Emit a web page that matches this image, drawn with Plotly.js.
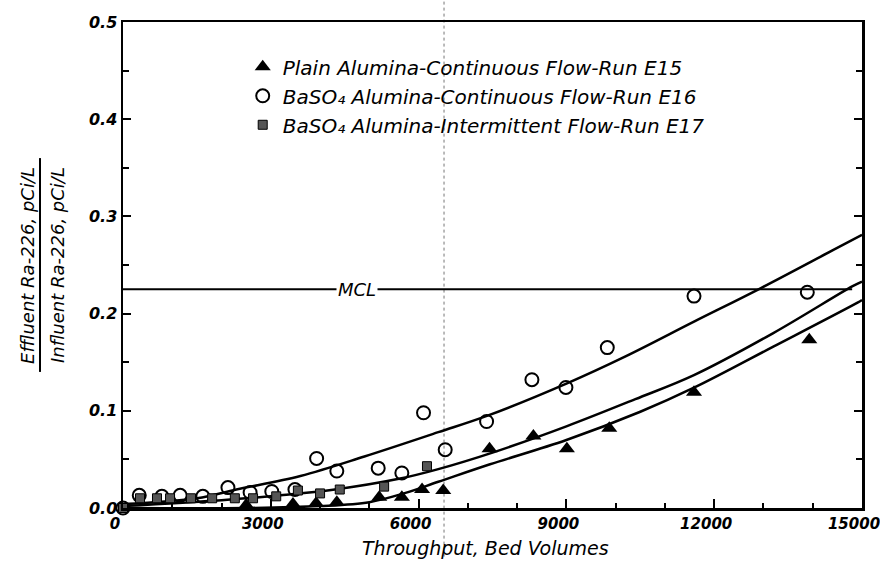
<!DOCTYPE html>
<html>
<head>
<meta charset="utf-8">
<script src="https://cdn.plot.ly/plotly-3.0.1.min.js"></script>
<style>html,body{margin:0;padding:0;background:#fff;}#chart{width:880px;height:577px;}</style>
</head>
<body>
<div id="chart"></div>
<script>
// ---- data ----
var e15X = [2500, 3450, 3920, 4340, 5200, 5660, 6070, 6500, 7440, 8330, 9010, 9870, 11590, 13930];
var e15Y = [0.003, 0.004, 0.005, 0.006, 0.011, 0.011, 0.019, 0.018, 0.061, 0.074, 0.061, 0.082, 0.119, 0.173];

var e16X = [0, 330, 790, 1160, 1620, 2130, 2580, 3020, 3490, 3930, 4340, 5180, 5660, 6100, 6540, 7380, 8300, 8990, 9830, 11590, 13890];
var e16Y = [0.0, 0.013, 0.012, 0.013, 0.012, 0.021, 0.016, 0.017, 0.019, 0.051, 0.038, 0.041, 0.036, 0.098, 0.060, 0.089, 0.132, 0.124, 0.165, 0.218, 0.222];

var e17X = [0, 345, 690, 955, 1380, 1810, 2270, 2640, 3110, 3550, 4000, 4400, 5300, 6170];
var e17Y = [0.0, 0.010, 0.010, 0.010, 0.010, 0.010, 0.010, 0.010, 0.012, 0.018, 0.015, 0.019, 0.022, 0.043];

var fitE16X = [0, 1500, 2300, 3600, 4900, 6400, 7400, 9000, 10200, 11600, 12900, 14400, 15000];
var fitE16Y = [0.004, 0.010, 0.019, 0.033, 0.053, 0.078, 0.095, 0.128, 0.156, 0.192, 0.225, 0.265, 0.281];

var fitE17X = [0, 2000, 3200, 4300, 5600, 6400, 7500, 9000, 10400, 11600, 13200, 14800, 15000];
var fitE17Y = [0.002, 0.008, 0.013, 0.019, 0.030, 0.040, 0.057, 0.084, 0.112, 0.137, 0.180, 0.228, 0.233];

var fitE15X = [0, 2500, 4000, 5000, 5700, 6400, 7450, 9000, 10500, 11600, 13200, 14900, 15000];
var fitE15Y = [0.0, 0.0, 0.002, 0.006, 0.015, 0.027, 0.045, 0.070, 0.099, 0.124, 0.166, 0.211, 0.214];

var mclX = [0, 14800];
var mclY = [0.225, 0.225];
var mclLabelX = 4750;
var artifactX = 6516;

var names = [
  'Plain Alumina-Continuous Flow-Run E15',
  'BaSO\u2084 Alumina-Continuous Flow-Run E16',
  'BaSO\u2084 Alumina-Intermittent Flow-Run E17'
];

var FONT = 'DejaVu Sans';

function curve(x, y) {
  return {x: x, y: y, type: 'scatter', mode: 'lines', showlegend: false,
          line: {color: '#000', width: 2.5, shape: 'spline'}};
}

var traces = [
  {x: mclX, y: mclY, yaxis: 'y2', type: 'scatter', mode: 'lines', showlegend: false,
   line: {color: '#000', width: 2}},
  curve(fitE16X, fitE16Y),
  curve(fitE17X, fitE17Y),
  curve(fitE15X, fitE15Y),
  {x: e15X, y: e15Y, type: 'scatter', mode: 'markers', name: names[0],
   marker: {symbol: 'triangle-up', size: 14, color: '#000'}, cliponaxis: false},
  {x: e16X, y: e16Y, type: 'scatter', mode: 'markers', name: names[1],
   marker: {symbol: 'circle-open', size: 13, color: '#000', line: {width: 2, color: '#000'}}, cliponaxis: false},
  {x: e17X, y: e17Y, type: 'scatter', mode: 'markers', name: names[2],
   marker: {symbol: 'square', size: 9, color: '#555', line: {width: 1, color: '#000'}}, cliponaxis: false}
];

var layout = {
  width: 880, height: 577,
  margin: {l: 123, r: 18, t: 22, b: 69},
  paper_bgcolor: '#fff', plot_bgcolor: '#fff',
  font: {family: FONT, color: '#000'},
  showlegend: true,
  legend: {x: 0.162, y: 0.948, xanchor: 'left', yanchor: 'top', bgcolor: 'rgba(0,0,0,0)',
           font: {family: FONT, size: 20, style: 'italic', color: '#000'}, tracegroupgap: 4,
           itemwidth: 30},
  xaxis: {range: [0, 15000], tickmode: 'linear', tick0: 0, dtick: 3000, tickformat: 'd',
          ticks: 'inside', ticklen: 9, tickwidth: 2, tickcolor: '#000',
          minor: {dtick: 1000, tick0: 0, ticks: 'inside', ticklen: 5, tickwidth: 2, tickcolor: '#000'},
          showline: true, linewidth: 2.5, linecolor: '#000', mirror: true,
          showgrid: false, zeroline: false, ticklabeloverflow: 'allow', ticklabelshift: -8,
          tickfont: {family: FONT, size: 15, style: 'italic', weight: 'bold', color: '#000'}},
  yaxis: {range: [0, 0.5], tickmode: 'linear', tick0: 0, dtick: 0.1, tickformat: '.1f',
          ticks: 'inside', ticklen: 8, tickwidth: 2, tickcolor: '#000',
          showline: true, linewidth: 2.5, linecolor: '#000', mirror: 'ticks',
          showgrid: false, zeroline: false,
          tickfont: {family: FONT, size: 16, style: 'italic', weight: 'bold', color: '#000'}},
  yaxis2: {overlaying: 'y', side: 'left', range: [0, 0.5], tickmode: 'linear', tick0: 0, dtick: 0.05,
           ticks: 'inside', ticklen: 6, tickwidth: 2, tickcolor: '#000', showticklabels: false,
           showline: true, linewidth: 2.5, linecolor: '#000', mirror: 'ticks',
           showgrid: false, zeroline: false},
  shapes: [
    {type: 'line', xref: 'x', yref: 'paper', x0: artifactX, x1: artifactX, y0: -0.1, y1: 1.045,
     line: {color: '#777', width: 1, dash: 'dot'}, layer: 'below'},
    {type: 'line', xref: 'paper', yref: 'paper', x0: -0.1123, x1: -0.1123, y0: 0.28, y1: 0.72,
     line: {color: '#000', width: 2}}
  ],
  annotations: [
    {xref: 'x', yref: 'y', x: mclLabelX, y: mclY[0], text: 'MCL', showarrow: false,
     bgcolor: '#fff', borderpad: 1, font: {family: FONT, size: 18, style: 'italic', color: '#000'}},
    {xref: 'paper', yref: 'paper', x: 0.491, y: -0.082, xanchor: 'center', yanchor: 'middle',
     text: 'Throughput, Bed Volumes', showarrow: false,
     font: {family: FONT, size: 19, style: 'italic', color: '#000'}},
    {xref: 'paper', yref: 'paper', x: -0.130, y: 0.5, xanchor: 'center', yanchor: 'middle', textangle: -90,
     text: 'Effluent Ra-226, pCi/L', showarrow: false,
     font: {family: FONT, size: 18, style: 'italic', color: '#000'}},
    {xref: 'paper', yref: 'paper', x: -0.0893, y: 0.5, xanchor: 'center', yanchor: 'middle', textangle: -90,
     text: 'Influent Ra-226, pCi/L', showarrow: false,
     font: {family: FONT, size: 18, style: 'italic', color: '#000'}}
  ]
};

Plotly.newPlot('chart', traces, layout, {staticPlot: true, displayModeBar: false});
</script>
</body>
</html>
